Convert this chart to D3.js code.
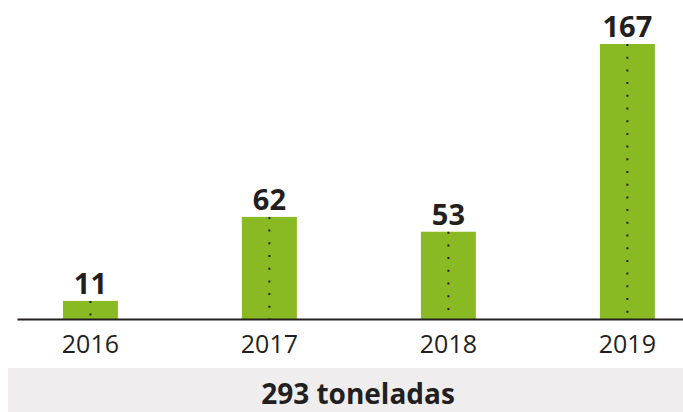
<!DOCTYPE html>
<html>
<head>
<meta charset="utf-8">
<script src="https://cdn.jsdelivr.net/npm/d3@7"></script>
<style>
  body { margin: 0; background: #fff; }
  svg text { font-family: "Open Sans", sans-serif; fill: #231f20; }
</style>
</head>
<body>
<div id="chart"></div>
<script>
// chart data
var years = ["2016", "2017", "2018", "2019"];
var tonnes = [11, 62, 53, 167];
var totalLabel = "293 toneladas";

var width = 683,
    height = 412;

var green = "#8aba23",
    ink = "#231f20";

var svg = d3.select("#chart")
  .append("svg")
    .attr("width", width)
    .attr("height", height);

var x = d3.scaleBand()
    .domain(years)
    .range([17, 683])
    .paddingInner(0.693)
    .paddingOuter(0.207)
    .align(0.62);

var y = d3.scaleLinear()
    .domain([0, d3.max(tonnes)])
    .range([319, 44]);

// total box at the bottom
svg.append("rect")
    .attr("x", 8)
    .attr("y", 368)
    .attr("width", width - 8)
    .attr("height", height - 368)
    .attr("fill", "#efedee");

svg.append("text")
    .attr("x", 358)
    .attr("y", 404)
    .attr("text-anchor", "middle")
    .style("font-size", "28px")
    .style("font-weight", 700)
    .text(totalLabel);

var rows = years.map(function(d, i) { return { year: d, value: tonnes[i] }; });

// bars
svg.selectAll(".bar")
  .data(rows)
  .enter().append("rect")
    .attr("class", "bar")
    .attr("x", function(d) { return x(d.year); })
    .attr("y", function(d) { return y(d.value); })
    .attr("width", x.bandwidth())
    .attr("height", function(d) { return y(0) - y(d.value); })
    .attr("fill", green);

// dotted centre lines
svg.selectAll(".dots")
  .data(rows)
  .enter().append("line")
    .attr("class", "dots")
    .attr("x1", function(d) { return x(d.year) + x.bandwidth() / 2; })
    .attr("x2", function(d) { return x(d.year) + x.bandwidth() / 2; })
    .attr("y1", function(d) { return y(d.value); })
    .attr("y2", y(0))
    .attr("stroke", ink)
    .attr("stroke-width", 2)
    .attr("stroke-dasharray", "2 10.7");

// value labels
svg.selectAll(".val")
  .data(rows)
  .enter().append("text")
    .attr("class", "val")
    .attr("x", function(d) { return x(d.year) + x.bandwidth() / 2; })
    .attr("y", function(d) { return y(d.value) - 7; })
    .attr("text-anchor", "middle")
    .style("font-size", "29px")
    .style("font-weight", 700)
    .text(function(d) { return d.value; });

// x axis
var axis = svg.append("g")
    .attr("transform", "translate(0," + y(0) + ")")
    .call(d3.axisBottom(x).tickSize(0).tickSizeOuter(0));

axis.select(".domain")
    .attr("stroke", ink)
    .attr("stroke-width", 2);

axis.selectAll(".tick text")
    .attr("y", 34)
    .attr("dy", null)
    .style("font-size", "25px")
    .style("font-family", "'Open Sans', sans-serif")
    .attr("fill", ink);
</script>
</body>
</html>
